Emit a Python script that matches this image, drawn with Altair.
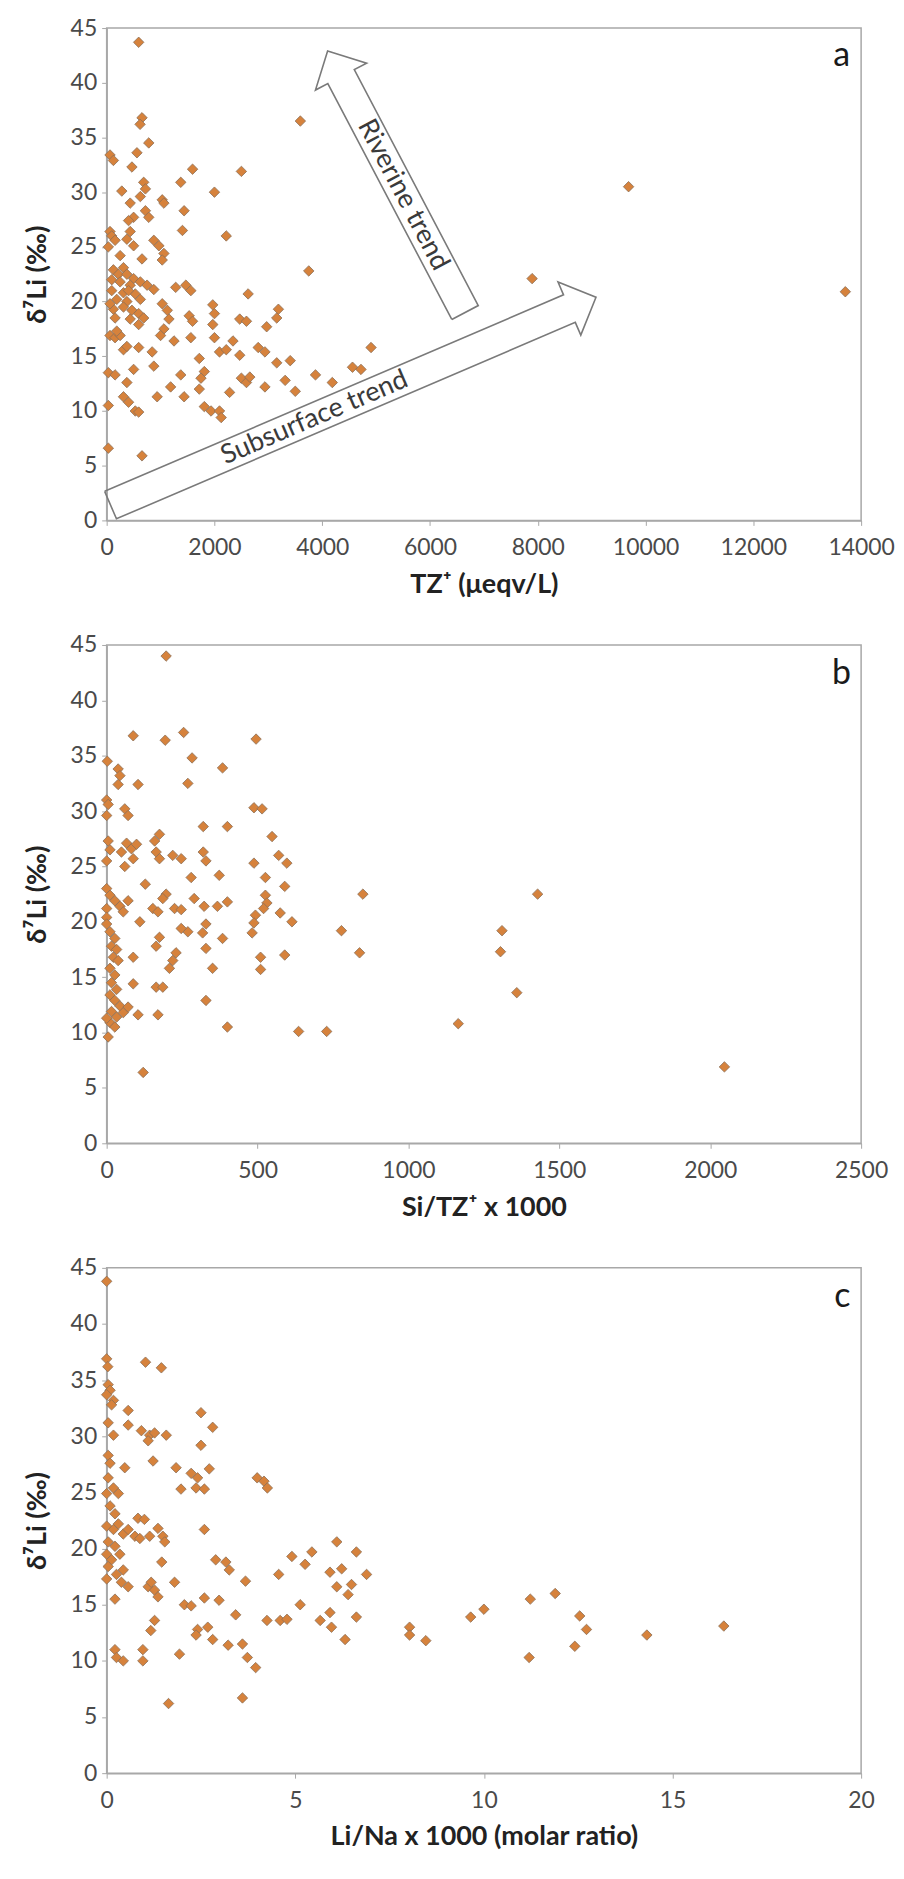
import math
import altair as alt
import pandas as pd

# ---------------- data ----------------
A_TZ = [594, 656, 620, 781, 62, 125, 562, 469, 1594, 2500, 1375, 687, 719, 281, 2000, 1031, 1062, 437, 625, 1437,
        719, 781, 500, 406, 1406, 62, 94, 156, 437, 375, 2219, 500, 875, 969, 1062, 1031, 656,
        125, 312, 219, 375, 500, 94, 250, 437, 625, 750, 875, 94, 312, 531, 187, 375, 625, 125, 312, 469, 594,
        156, 437, 594, 687, 1031, 1125, 1156, 1281, 1469, 1562, 1531, 1594, 1062, 1000, 2625, 1969, 2000, 1969,
        2000, 3187, 3156, 2969, 2469, 2594, 3750, 3594, 62, 156, 250, 312, 594, 844, 1250, 1562, 1719, 2094, 2219,
        2344, 2469, 2812, 2937, 3156, 3406, 4906, 4562, 4719, 3875, 4187, 31, 156, 375, 500, 875, 1375, 1812, 1750,
        1719, 2500, 2594, 2656, 2937, 3312, 3500, 2281, 937, 1187, 1437, 312, 406, 531, 594, 31, 1812, 1937, 2094,
        2125, 31, 656, 7895, 9685, 13707, 31, 250, 187, 375, 62, 406]
A_D7LI = [43.7, 36.8, 36.2, 34.5, 33.4, 32.9, 33.6, 32.3, 32.1, 31.9, 30.9, 30.9, 30.3, 30.1, 30.0, 29.3, 29.0, 29.0,
          29.6, 28.3, 28.3, 27.7, 27.7, 27.4, 26.5, 26.4, 26.0, 25.6, 26.4, 25.7, 26.0, 25.1, 25.6, 25.1, 24.4, 23.8,
          23.9, 22.9, 23.1, 22.5, 22.5, 22.1, 22.0, 21.8, 21.5, 21.8, 21.5, 21.1, 21.0, 20.8, 20.7, 20.2, 20.0, 20.2,
          19.3, 19.5, 19.2, 18.9, 18.5, 18.4, 17.9, 18.5, 19.8, 19.2, 18.4, 21.3, 21.5, 21.0, 18.7, 18.2, 17.5, 16.9,
          20.7, 19.7, 18.9, 17.9, 16.7, 19.3, 18.5, 17.7, 18.4, 18.2, 22.8, 36.5, 16.9, 16.7, 16.9, 15.6, 15.8, 15.4,
          16.4, 16.7, 14.8, 15.4, 15.6, 16.4, 15.1, 15.8, 15.4, 14.4, 14.6, 15.8, 14.0, 13.8, 13.3, 12.6, 13.5, 13.3,
          12.6, 13.8, 14.1, 13.3, 13.6, 13.0, 12.0, 13.0, 12.6, 13.1, 12.2, 12.8, 11.8, 11.7, 11.3, 12.2, 11.3, 11.3,
          10.8, 10.0, 9.9, 10.5, 10.4, 10.0, 10.0, 9.4, 6.6, 5.9, 22.1, 30.5, 20.9, 25.0, 24.2, 17.3, 15.9, 19.8, 21.0]

B_SI = [197, 88, 194, 255, 495, 2, 283, 384, 38, 44, 38, 104, 269, 0, 5, 0, 60, 71, 488, 515, 320, 400, 548, 5, 11,
        0, 66, 82, 99, 49, 88, 60, 175, 159, 164, 175, 219, 247, 320, 329, 488, 570, 597, 280, 373, 526, 128, 0, 11,
        27, 44, 55, 0, 71, 197, 186, 153, 170, 225, 247, 290, 323, 367, 400, 526, 531, 520, 590, 0, 0, 110, 269, 247,
        329, 318, 575, 614, 493, 488, 482, 778, 175, 164, 384, 11, 27, 16, 33, 22, 38, 11, 27, 16, 33, 11, 27, 44,
        16, 33, 11, 27, 5, 0, 55, 71, 88, 88, 230, 219, 208, 329, 351, 510, 510, 590, 838, 164, 186, 104, 170, 329,
        400, 636, 729, 121, 849, 1428, 1310, 1305, 1359, 1165, 2047]
B_D7LI = [44.0, 36.8, 36.4, 37.1, 36.5, 34.5, 34.8, 33.9, 33.8, 33.2, 32.4, 32.4, 32.5, 31.0, 30.6, 29.6, 30.2, 29.6,
          30.3, 30.2, 28.6, 28.6, 27.7, 27.3, 26.5, 25.5, 27.1, 26.6, 27.0, 26.3, 25.7, 25.0, 27.9, 27.3, 26.3, 25.7,
          26.0, 25.7, 26.3, 25.5, 25.3, 26.0, 25.3, 24.0, 24.2, 24.0, 23.4, 23.0, 22.4, 21.9, 21.4, 20.9, 21.2, 21.9,
          22.5, 22.1, 21.2, 20.9, 21.2, 21.1, 22.1, 21.4, 21.4, 21.8, 22.4, 21.7, 21.2, 23.2, 20.4, 19.8, 20.0, 19.1,
          19.4, 19.8, 19.0, 20.8, 20.0, 20.6, 19.9, 19.0, 19.2, 18.6, 17.8, 18.5, 19.1, 18.5, 17.8, 17.5, 16.8, 16.5,
          15.8, 15.2, 14.5, 13.9, 13.4, 12.9, 12.4, 11.9, 11.4, 10.9, 10.5, 9.6, 11.3, 11.8, 12.3, 16.8, 14.4, 17.2,
          16.5, 15.8, 17.6, 15.8, 16.8, 15.7, 17.0, 17.2, 14.1, 14.1, 11.6, 11.6, 12.9, 10.5, 10.1, 10.1, 6.4, 22.5,
          22.5, 19.2, 17.3, 13.6, 10.8, 6.9]

C_LINA = [0, 0, 0.03, 1.03, 1.45, 0.04, 0.09, 0, 0.18, 0.13, 0.57, 2.5, 2.81, 0.57, 0.04, 0.92, 1.14, 1.27, 1.58, 1.1,
          0.18, 2.5, 1.23, 0.04, 0.09, 0.48, 1.84, 2.24, 2.41, 2.72, 3.99, 4.17, 4.26, 1.97, 2.37, 2.59, 0.04, 0.18, 0,
          0.31, 0.09, 0.22, 0.83, 1.0, 2.59, 1.36, 1.49, 1.54, 0, 0.18, 0.31, 0.44, 0.57, 0.04, 0.22, 0, 0.35, 0.13,
          0.04, 0.26, 0.44, 0.39, 0.57, 0, 0.75, 0.88, 1.14, 1.46, 0.22, 1.1, 1.27, 1.36, 1.18, 1.8, 2.06, 2.24, 2.59,
          2.98, 2.89, 3.16, 3.25, 3.68, 3.42, 1.27, 1.17, 2.41, 2.68, 2.81, 2.37, 3.22, 3.6, 1.93, 3.73, 3.95, 0.22,
          0.26, 0.44, 0.96, 0.96, 1.64, 3.6, 4.25, 4.6, 4.78, 4.56, 4.91, 5.13, 5.26, 5.44, 5.66, 5.92, 5.96, 5.92,
          6.1, 6.23, 6.1, 6.32, 6.49, 6.4, 6.62, 6.89, 6.62, 8.03, 8.03, 8.46, 11.23, 11.89, 9.65, 10.0, 12.54, 12.72,
          12.41, 11.2, 14.32, 16.36]
C_D7LI = [43.8, 36.9, 36.2, 36.6, 36.1, 34.6, 34.1, 33.7, 33.2, 32.8, 32.3, 32.1, 30.8, 31.0, 31.2, 30.5, 30.1, 30.3,
          30.1, 29.6, 30.1, 29.2, 27.8, 28.3, 27.6, 27.2, 27.2, 26.7, 26.3, 27.1, 26.3, 26.0, 25.4, 25.3, 25.4, 25.3,
          26.3, 25.4, 24.9, 24.9, 23.8, 23.1, 22.7, 22.6, 21.7, 21.8, 21.1, 20.6, 22.0, 21.7, 22.2, 21.3, 21.7, 20.6,
          20.2, 19.5, 19.5, 19.0, 18.4, 17.7, 18.1, 17.0, 16.6, 17.3, 21.1, 20.9, 21.1, 18.8, 15.5, 16.6, 16.3, 15.7,
          17.0, 17.0, 15.0, 14.9, 15.6, 15.4, 19.0, 18.8, 18.1, 17.1, 14.1, 13.6, 12.7, 12.8, 13.0, 11.9, 12.3, 11.4,
          11.5, 10.6, 10.3, 9.4, 11.0, 10.3, 10.0, 11.0, 10.0, 6.2, 6.7, 13.6, 13.6, 13.7, 17.7, 19.3, 15.0, 18.6,
          19.7, 13.6, 14.3, 13.0, 17.9, 16.6, 18.2, 20.6, 11.9, 16.8, 15.9, 19.7, 17.7, 13.9, 13.0, 12.3, 11.8, 15.5,
          16.0, 13.9, 14.6, 14.0, 12.8, 11.3, 10.3, 12.3, 13.1]

Y_TICKS = list(range(0, 46, 5))
A_TICKS = list(range(0, 14001, 2000))
B_TICKS = list(range(0, 2501, 500))
C_TICKS = list(range(0, 21, 5))

PANEL_LETTERS = ["a", "b", "c"]
LETTER_X = [13640, 2435, 19.5]
LETTER_Y = 42.4

# trend arrows of panel a (tail centre, tip) in data units
ARROW_NAMES = ["Riverine trend", "Subsurface trend"]
ARROW_TAIL = [(6650, 19.0), (72, 1.4)]
ARROW_TIP = [(4100, 42.9), (9080, 20.4)]
ARROW_TEXT_T = [0.45, 0.42]

# ---------------- layout ----------------
W = 757
HA, HB, HC = 494, 500, 507
MARK_FILL = "#D6823C"
MARK_STROKE = "#8C7058"
FONT = "Lato"

def y_enc():
    return alt.Y("y:Q", scale=alt.Scale(domain=[0, 45], nice=False, zero=False),
                 axis=alt.Axis(values=Y_TICKS, title="δ⁷Li (‰)"))

def x_enc(dom, ticks, title):
    return alt.X("x:Q", scale=alt.Scale(domain=dom, nice=False, zero=False),
                 axis=alt.Axis(values=ticks, format="d", title=title))

def panel(xs, ys, dom, ticks, title, idx, height, extra=None):
    df = pd.DataFrame({"x": xs, "y": ys})
    pts = alt.Chart(df).mark_point(shape="diamond", filled=True, size=110, fill=MARK_FILL,
                                   stroke=MARK_STROKE, strokeWidth=0.8, opacity=1).encode(
        x=x_enc(dom, ticks, title), y=y_enc())
    lab = alt.Chart(pd.DataFrame({"x": [LETTER_X[idx]], "y": [LETTER_Y], "t": [PANEL_LETTERS[idx]]})).mark_text(
        font=FONT, fontSize=34, color="#1a1a1a", align="center", baseline="middle").encode(
        x="x:Q", y="y:Q", text="t:N")
    layers = [pts, lab]
    if extra:
        layers += extra
    return alt.layer(*layers).properties(width=W, height=height)

# arrows (outlined block arrows) for panel a
kx = W / 14000.0
ky = HA / 45.0
rows = []
txt_rows = []
for name, tail, tip, tt in zip(ARROW_NAMES, ARROW_TAIL, ARROW_TIP, ARROW_TEXT_T):
    tx, ty = tail[0] * kx, tail[1] * ky
    px, py = tip[0] * kx, tip[1] * ky
    dx, dy = px - tx, py - ty
    n = math.hypot(dx, dy)
    ux, uy = dx / n, dy / n
    nx, ny = -uy, ux
    w, L, H = 15.0, 29.0, 29.0
    bx, by = px - ux * L, py - uy * L
    poly = [(tx + nx * w, ty + ny * w), (bx + nx * w, by + ny * w), (bx + nx * H, by + ny * H), (px, py),
            (bx - nx * H, by - ny * H), (bx - nx * w, by - ny * w), (tx - nx * w, ty - ny * w),
            (tx + nx * w, ty + ny * w)]
    for i, (qx, qy) in enumerate(poly):
        rows.append({"arrow": name, "i": i, "x": qx / kx, "y": qy / ky})
    cx, cy = tx + dx * tt, ty + dy * tt
    ang = math.degrees(math.atan2(-dy, dx))
    if dx < 0:
        ang = math.degrees(math.atan2(dy, -dx))
    ang = ang % 360
    txt_rows.append({"x": cx / kx, "y": cy / ky, "t": name, "ang": ang})

arrow_df = pd.DataFrame(rows)
arrow_lines = alt.Chart(arrow_df).mark_line(color="#7a7a7a", strokeWidth=1.6).encode(
    x="x:Q", y="y:Q", order="i:Q", detail="arrow:N")
arrow_texts = []
for r in txt_rows:
    arrow_texts.append(alt.Chart(pd.DataFrame([r])).mark_text(
        font=FONT, fontSize=27, color="#3a3a3a", align="center", baseline="middle", angle=float(r["ang"])
    ).encode(x="x:Q", y="y:Q", text="t:N"))

pa = panel(A_TZ, A_D7LI, [0, 14000], A_TICKS, "TZ⁺ (μeqv/L)", 0, HA, [arrow_lines] + arrow_texts)
pb = panel(B_SI, B_D7LI, [0, 2500], B_TICKS, "Si/TZ⁺ x 1000", 1, HB)
pc = panel(C_LINA, C_D7LI, [0, 20], C_TICKS, "Li/Na x 1000 (molar ratio)", 2, HC)

chart = alt.vconcat(pa, pb, pc, spacing=125, bounds="flush").properties(
    padding={"left": 14, "top": 5, "right": 0, "bottom": 5}
).configure_view(
    stroke="#A8A8A8", strokeWidth=1.5
).configure_axis(
    labelFont=FONT, labelFontSize=23, labelColor="#4a4a4a",
    titleFont=FONT, titleFontSize=27, titleFontWeight="bold", titleColor="#222222",
    domainColor="#A8A8A8", domainWidth=1.5, tickColor="#A8A8A8", tickSize=5, grid=False,
    labelFlush=False, labelOverlap=False
).configure_axisX(
    labelPadding=11, titlePadding=12
).configure_axisY(
    labelPadding=5, titlePadding=19
)

chart.save("out.html", embed_options={"renderer": "svg", "actions": False})
